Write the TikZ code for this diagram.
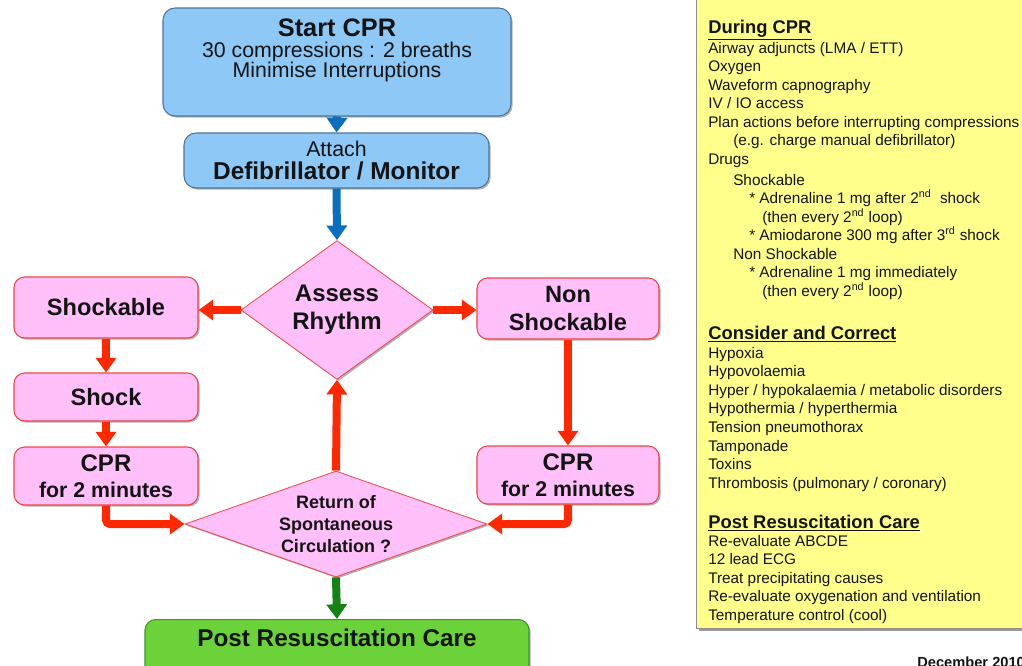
\documentclass[tikz,border=0pt]{standalone}
\usepackage{fontspec}
\setmainfont{Liberation Sans}
\usetikzlibrary{arrows.meta,shapes.geometric,shadows}
\definecolor{bluefill}{RGB}{141,200,247}
\definecolor{blueline}{RGB}{80,115,150}
\definecolor{bluearrow}{RGB}{10,110,190}
\definecolor{pinkfill}{RGB}{255,192,250}
\definecolor{pinkline}{RGB}{240,70,70}
\definecolor{redarrow}{RGB}{255,40,0}
\definecolor{greenfill}{RGB}{108,210,58}
\definecolor{greenline}{RGB}{60,150,50}
\definecolor{greenarrow}{RGB}{20,130,20}
\definecolor{yellowfill}{RGB}{255,255,140}
\definecolor{txt}{RGB}{20,20,20}
\begin{document}
\begin{tikzpicture}[x=0.75pt,y=-0.75pt,
  shad/.style={drop shadow={shadow xshift=1.2pt,shadow yshift=-1.2pt,opacity=0.3,fill=black}},
  bluebox/.style={draw=blueline,line width=0.8pt,fill=bluefill,rounded corners=9pt,shad,text=txt,align=center,inner sep=0pt},
  pinkbox/.style={draw=pinkline,line width=0.8pt,fill=pinkfill,rounded corners=8pt,shad,text=txt,align=center,inner sep=0pt,minimum width=138pt,font=\bfseries\fontsize{17.7}{21.7}\selectfont},
  pinkdia/.style={draw=pinkline,line width=0.6pt,fill=pinkfill,diamond,inner sep=0pt,shad,text=txt,align=center},
  greenbox/.style={draw=greenline,line width=0.8pt,fill=greenfill,rounded corners=8pt,shad},
  lbl/.style={anchor=base,inner sep=0pt,text=txt},
  arr/.style={line width=6pt,-{Triangle[width=15pt,length=11pt]}},
  ptxt/.style={anchor=base west,inner sep=0pt,text=txt,font=\fontsize{11.5}{13}\selectfont},
  phead/.style={anchor=base west,inner sep=0pt,text=txt,font=\bfseries\fontsize{13.8}{15}\selectfont},
]
\useasboundingbox (0,0) rectangle (1022,665);

% right panel
\node[draw=black!45,line width=1pt,fill=yellowfill,anchor=north west,minimum width=300pt,minimum height=478.5pt,drop shadow={shadow xshift=1.5pt,shadow yshift=-1.5pt,opacity=0.4,fill=black}] (panel) at (696,-10) {};

% flowchart boxes
\node[bluebox,minimum width=261pt,minimum height=81pt] (start) at (337,62) {};
\node[lbl,font=\bfseries\fontsize{19}{22}\selectfont] (startT) at (337,36) {Start CPR};
\node[lbl,font=\fontsize{16}{19}\selectfont] (startA) at (337,57.6) {30 compressions : 2 breaths};
\node[lbl,font=\fontsize{16}{19}\selectfont] (startB) at (337,77.6) {Minimise Interruptions};

\node[bluebox,minimum width=228.75pt,minimum height=41.25pt,font=\fontsize{16}{17.3}\selectfont] (attach) at (336.5,160.5)
  {Attach\\{\bfseries\fontsize{18.3}{17.3}\selectfont Defibrillator / Monitor}};

\node[pinkdia,minimum width=144pt,minimum height=94.5pt,font=\bfseries\fontsize{18}{21}\selectfont] (assess) at (337,310) {Assess\\Rhythm};

\node[pinkbox,minimum height=45.75pt] (shockable) at (106,307.5) {Shockable};
\node[pinkbox,minimum height=36pt] (shock) at (106,397) {Shock};
\node[pinkbox,minimum height=43.5pt,font=\bfseries\fontsize{16}{19.4}\selectfont] (cprl) at (106,476) {{\fontsize{18}{19.4}\selectfont CPR}\\for 2 minutes};

\node[pinkbox,minimum width=136.5pt,minimum height=45.75pt] (nonshock) at (568,308.5) {Non\\Shockable};
\node[pinkbox,minimum width=136.5pt,minimum height=43.5pt,font=\bfseries\fontsize{16}{19.4}\selectfont] (cprr) at (568,475) {{\fontsize{18}{19.4}\selectfont CPR}\\for 2 minutes};

\node[pinkdia,minimum width=226.5pt,minimum height=79.5pt,shape aspect=2.85,font=\bfseries\fontsize{13.5}{16.5}\selectfont] (rosc) at (336,524) {Return of\\Spontaneous\\Circulation ?};

\node[greenbox,minimum width=288pt,minimum height=45pt,anchor=north] (post) at (337,619) {};
\node[lbl,font=\bfseries\fontsize{18.2}{20}\selectfont] (postT) at (337,646.7) {Post Resuscitation Care};

% connectors
\draw[arr,bluearrow] (start.south) -- (attach.north);
\draw[arr,bluearrow] (attach.south) -- (assess.north);
\draw[arr,redarrow] (assess.west) -- (assess.west -| shockable.east);
\draw[arr,redarrow] (assess.east) -- (assess.east -| nonshock.west);
\draw[arr,redarrow] (shockable.south) -- (shock.north);
\draw[arr,redarrow] (shock.south) -- (cprl.north);
\draw[arr,redarrow] (nonshock.south) -- (cprr.north);
\draw[arr,redarrow,rounded corners=3pt] (cprl.south) |- (rosc.west);
\draw[arr,redarrow,rounded corners=3pt] (cprr.south) |- (rosc.east);
\draw[arr,redarrow] (rosc.north) -- (assess.south);
\draw[arr,greenarrow] (rosc.south) -- (post.north);

% panel text
\node[phead] (h1) at (708,33.6) {\underline{During CPR}};
\node[ptxt] (a1) at (708,53) {Airway adjuncts (LMA / ETT)};
\node[ptxt] (a2) at (708,71.5) {Oxygen};
\node[ptxt] (a3) at (708,90) {Waveform capnography};
\node[ptxt] (a4) at (708,108.5) {IV / IO access};
\node[ptxt] (a5) at (708,127) {Plan actions before interrupting compressions};
\node[ptxt] (a6) at (733,145.5) {(e.g. charge manual defibrillator)};
\node[ptxt] (a7) at (708,164) {Drugs};
\node[ptxt] (a8) at (733,185) {Shockable};
\node[ptxt] (a9) at (749,203.5) {* Adrenaline 1 mg after 2\textsuperscript{nd}\ \ shock};
\node[ptxt] (a10) at (762,222) {(then every 2\textsuperscript{nd} loop)};
\node[ptxt] (a11) at (749,240.5) {* Amiodarone 300 mg after 3\textsuperscript{rd} shock};
\node[ptxt] (a12) at (733,259) {Non Shockable};
\node[ptxt] (a13) at (749,277.5) {* Adrenaline 1 mg immediately};
\node[ptxt] (a14) at (762,296) {(then every 2\textsuperscript{nd} loop)};

\node[phead] (h2) at (708,339.6) {\underline{Consider and Correct}};
\node[ptxt] (b1) at (708,358) {Hypoxia};
\node[ptxt] (b2) at (708,376.6) {Hypovolaemia};
\node[ptxt] (b3) at (708,395.2) {Hyper / hypokalaemia / metabolic disorders};
\node[ptxt] (b4) at (708,413.8) {Hypothermia / hyperthermia};
\node[ptxt] (b5) at (708,432.4) {Tension pneumothorax};
\node[ptxt] (b6) at (708,451) {Tamponade};
\node[ptxt] (b7) at (708,469.6) {Toxins};
\node[ptxt] (b8) at (708,488.2) {Thrombosis (pulmonary / coronary)};

\node[phead] (h3) at (708,528.6) {\underline{Post Resuscitation Care}};
\node[ptxt] (c1) at (708,546) {Re-evaluate ABCDE};
\node[ptxt] (c2) at (708,564.6) {12 lead ECG};
\node[ptxt] (c3) at (708,583.2) {Treat precipitating causes};
\node[ptxt] (c4) at (708,601.8) {Re-evaluate oxygenation and ventilation};
\node[ptxt] (c5) at (708,620.4) {Temperature control (cool)};

\node[anchor=base west,inner sep=0pt,text=txt,font=\bfseries\fontsize{11}{12}\selectfont] (date) at (917,667) {December 2010};
\end{tikzpicture}
\end{document}
